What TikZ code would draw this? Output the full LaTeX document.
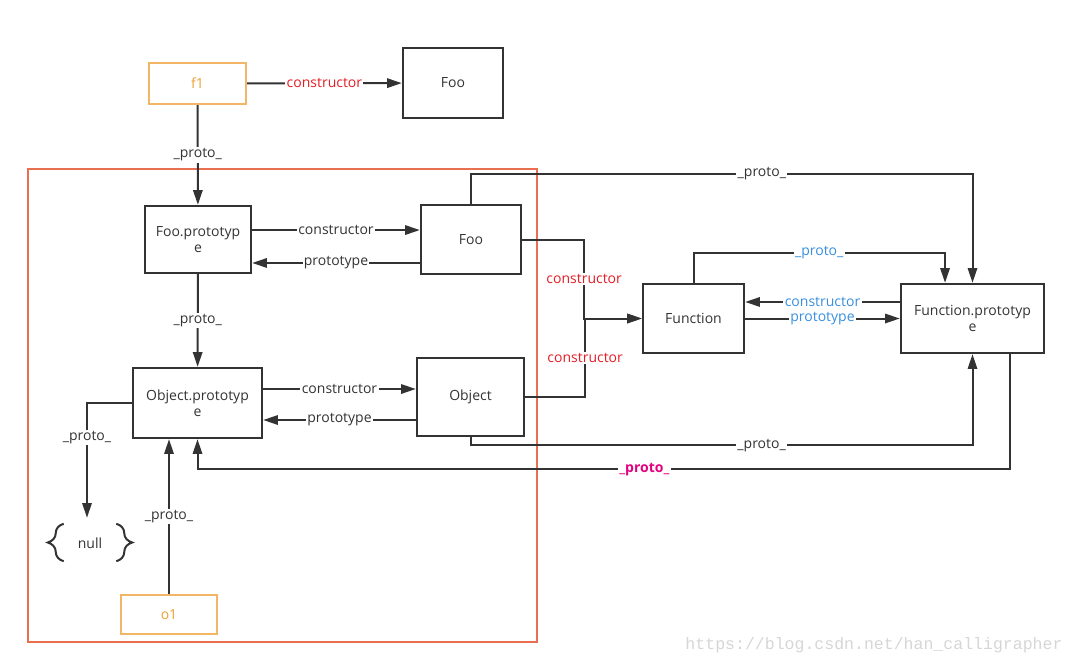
\documentclass[tikz,border=0pt]{standalone}
\usepackage{fontspec}
\setmainfont{Open Sans}
\newfontfamily\wmfont{Liberation Mono}
\usetikzlibrary{arrows.meta, positioning, calc, decorations.pathreplacing}
\definecolor{ink}{RGB}{51,51,51}
\definecolor{ctorred}{RGB}{228,30,38}
\definecolor{protoblue}{RGB}{57,143,222}
\definecolor{protopink}{RGB}{228,0,126}
\definecolor{boxorange}{RGB}{242,182,102}
\definecolor{txtorange}{RGB}{236,160,50}
\definecolor{framered}{RGB}{234,110,80}

\tikzset{
    box/.style={draw=ink, line width=1.8pt, align=center, inner sep=2pt},
    inst/.style={draw=boxorange, line width=1.6pt, text=txtorange},
    arr/.style={draw=ink, line width=1.5pt, -{Triangle[length=11pt,width=7pt]}},
    lbl/.style={fill=white, inner sep=1pt},
}

\begin{document}
\begin{tikzpicture}[x=0.75pt, y=-0.75pt, font=\fontsize{10.5}{12}\selectfont, text=ink]
    \useasboundingbox (0,0) rectangle (1076,665);

    % Frame round the Foo / Object part
    \draw[framered, line width=0.9pt] (28,169) rectangle (537,642);

    % Objects
    \node[box, inst, minimum width=72.75pt, minimum height=30.75pt] (f1) at (197.5,83.5) {f1};
    \node[box, inst, minimum width=72pt, minimum height=29.25pt] (o1) at (169,614.5) {o1};
    \node[box, minimum width=75pt, minimum height=52.5pt] (fooTop) at (453,83) {Foo};
    \node[box, minimum width=79.5pt, minimum height=50.25pt] (fooP) at (198,239.5) {Foo.prototyp\\e};
    \node[box, minimum width=75pt, minimum height=51.75pt] (fooR) at (471,239.5) {Foo};
    \node[box, minimum width=96.75pt, minimum height=52.5pt] (objP) at (197.5,403) {Object.prototyp\\e};
    \node[box, minimum width=80.25pt, minimum height=58.5pt] (objR) at (470.5,397) {Object};
    \node[box, minimum width=75.75pt, minimum height=51.75pt] (func) at (693.5,318.5) {Function};
    \node[box, minimum width=107.25pt, minimum height=51.75pt] (funcP) at (972.5,318.5) {Function.prototyp\\e};
    \node[minimum width=64.5pt, minimum height=37.5pt] (null) at (90,543) {null};

    % Braces round null
    \draw[ink, line width=1.5pt, decorate, decoration={brace, amplitude=12pt}]
        ([xshift=12.75pt, yshift=5.25pt]null.south west) -- ([xshift=12.75pt, yshift=-4.5pt]null.north west);
    \draw[ink, line width=1.5pt, decorate, decoration={brace, amplitude=12pt}]
        ([xshift=-12.75pt, yshift=-4.5pt]null.north east) -- ([xshift=-12.75pt, yshift=5.25pt]null.south east);

    % f1
    \draw[arr] (f1) -- node[lbl, text=ctorred] {constructor} (fooTop);
    \draw[arr] (f1) -- node[lbl] {\_proto\_} (fooP);

    % Foo and Foo.prototype
    \draw[arr] ([yshift=7.1pt]fooP.east) -- node[lbl] {constructor} ([yshift=7.1pt]fooR.west);
    \draw[arr] ([yshift=-17.6pt]fooR.west) -- node[lbl] {prototype} ([yshift=-17.6pt]fooP.east);
    \draw[arr] (fooP) -- node[lbl] {\_proto\_} (objP);

    % Object and Object.prototype
    \draw[arr] ([yshift=10.5pt]objP.east) -- node[lbl] {constructor} ([yshift=6pt]objR.west);
    \draw[arr] ([yshift=-17.25pt]objR.west) -- node[lbl] {prototype} ([yshift=-12.75pt]objP.east);
    \draw[arr] (objP.west) -| node[lbl, pos=0.65] {\_proto\_} ([xshift=-2.25pt]null.north);
    \draw[arr] (o1.north) -- node[lbl] {\_proto\_} (o1.north |- objP.south);

    % Foo and Object to Function
    \draw[arr] (fooR.east) -- ++(62,0) |- node[lbl, text=ctorred, pos=0.25] {constructor} (func.west);
    \draw[arr] (objR.east) -- ++(60,0) |- node[lbl, text=ctorred, pos=0.25] {constructor} (func.west);

    % Function and Function.prototype
    \draw[arr] ([yshift=12.4pt]funcP.west) -- node[lbl, text=protoblue] {constructor} ([yshift=12.4pt]func.east);
    \draw[arr] (func.east) -- node[lbl, text=protoblue] {prototype} (funcP.west);
    \draw[arr] (func.north) -- ++(0,-30) -| node[lbl, text=protoblue, pos=0.25] {\_proto\_} ([xshift=-20.6pt]funcP.north);

    % _proto_ links to Function.prototype
    \draw[arr] (fooR.north) -- ++(0,-30) -| node[lbl, pos=0.29] {\_proto\_} (funcP.north);
    \draw[arr] (objR.south) -- ++(0,8) -| node[lbl, pos=0.29] {\_proto\_} (funcP.south);
    \draw[arr] ([xshift=28.1pt]funcP.south) -- ++(0,115) -| node[lbl, pos=0.225, text=protopink, font=\fontsize{10.5}{12}\selectfont\bfseries] {\_proto\_} (objP.south);

    % Watermark
    \node[text=black!16, font=\wmfont\fontsize{12.4}{14}\selectfont] (mark) at (874,645) {https://blog.csdn.net/han\_calligrapher};
\end{tikzpicture}
\end{document}
